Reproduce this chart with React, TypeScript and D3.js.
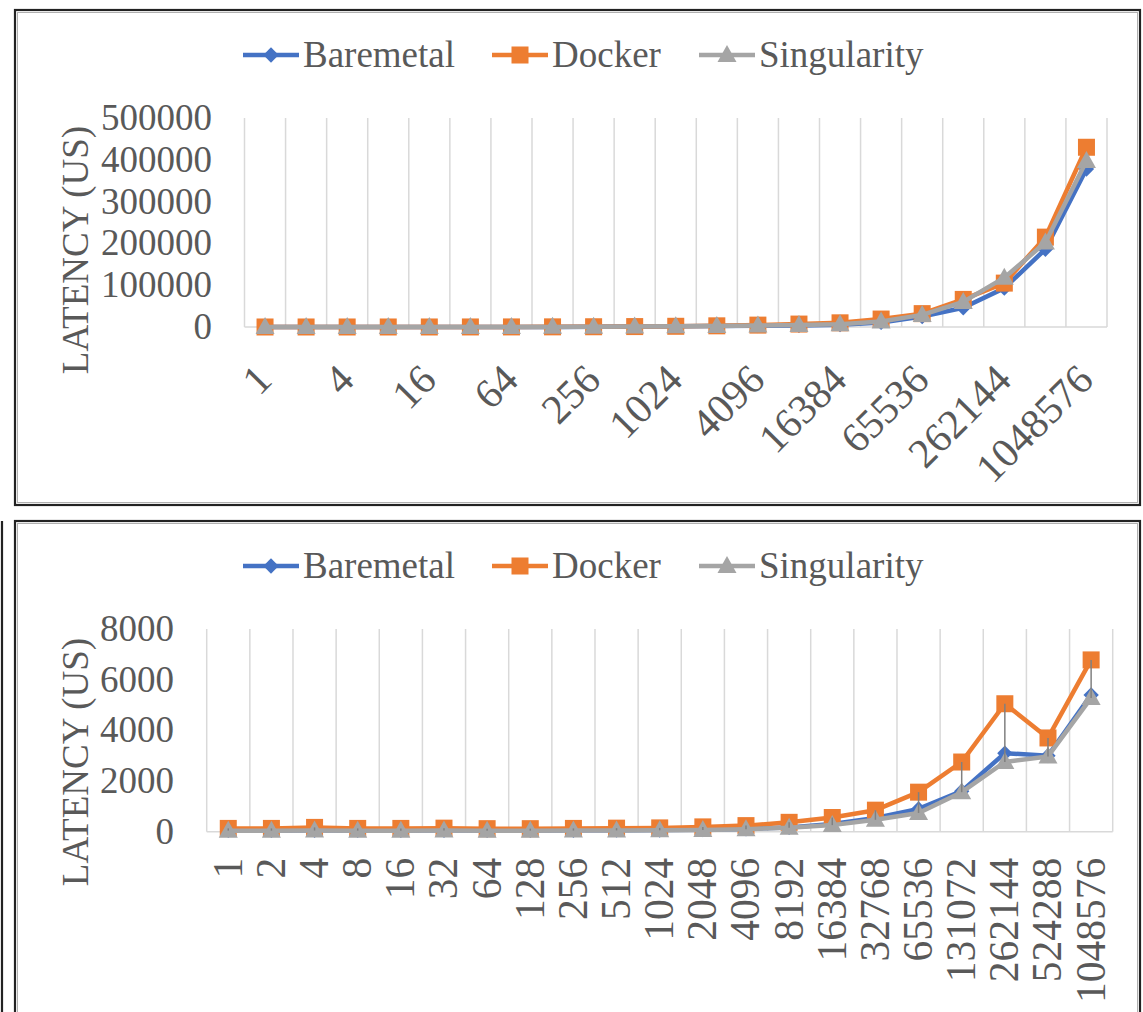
import React from "react";
import * as d3 from "d3";

const sizes = ["1","2","4","8","16","32","64","128","256","512","1024","2048","4096","8192","16384","32768","65536","131072","262144","524288","1048576"];

const topBaremetal = [20, 25, 30, 40, 60, 100, 180, 300, 550, 900, 1500, 2300, 3200, 3800, 5500, 11000, 25000, 46000, 93000, 186000, 378000];
const topDocker = [30, 35, 40, 50, 70, 120, 200, 350, 600, 1000, 1700, 2800, 4500, 7000, 10000, 19000, 32000, 66000, 105000, 215000, 430000];
const topSingularity = [20, 25, 30, 40, 60, 100, 180, 300, 550, 950, 1600, 2500, 3500, 4500, 6500, 13000, 29000, 60000, 118000, 202000, 397000];
const topTicks = [0, 100000, 200000, 300000, 400000, 500000];

const botBaremetal = [50, 50, 55, 50, 50, 55, 50, 50, 55, 60, 65, 80, 110, 170, 300, 540, 900, 1600, 3100, 3000, 5400];
const botDocker = [130, 130, 170, 130, 130, 140, 120, 120, 130, 140, 150, 190, 240, 370, 560, 850, 1560, 2750, 5050, 3700, 6780];
const botSingularity = [40, 40, 45, 40, 40, 45, 40, 40, 45, 50, 55, 70, 100, 160, 260, 470, 740, 1560, 2750, 2970, 5280];
const botTicks = [0, 2000, 4000, 6000, 8000];

const seriesNames = ["Baremetal", "Docker", "Singularity"];
const seriesColors = ["#4472C4", "#ED7D31", "#A5A5A5"];
const markerKinds = ["diamond", "square", "triangle"];

const FONT = "'Liberation Serif', 'Times New Roman', serif";
const TXT = "#595959";

function Marker({ kind, x, y, color }: { kind: string; x: number; y: number; color: string }) {
  if (kind === "diamond") {
    const p = d3.symbol().type(d3.symbolDiamond2).size(150)();
    return <path d={p || ""} transform={`translate(${x},${y})`} fill={color} />;
  }
  if (kind === "square") {
    return <rect x={x - 8.5} y={y - 8.5} width={17} height={17} fill={color} />;
  }
  return <path d={`M${x},${y - 10}L${x + 9.5},${y + 7}L${x - 9.5},${y + 7}Z`} fill={color} />;
}

function Legend({ y }: { y: number }) {
  const xs = [243, 492, 699];
  return (
    <g>
      {seriesNames.map((n, i) => (
        <g key={n}>
          <line x1={xs[i]} x2={xs[i] + 56} y1={y} y2={y} stroke={seriesColors[i]} strokeWidth={4.5} />
          <Marker kind={markerKinds[i]} x={xs[i] + 28} y={y} color={seriesColors[i]} />
          <text x={xs[i] + 60} y={y + 12} fontSize={37} fill={TXT} fontFamily={FONT}>{n}</text>
        </g>
      ))}
    </g>
  );
}

type ChartProps = {
  left: number; right: number; top: number; bottom: number;
  ticks: number[]; series: number[][];
  labelMode: "diag" | "vert";
  tickX: number; titleX: number; titleY: number; legendY: number;
  highLow: boolean;
};

function Chart(p: ChartProps) {
  const x = d3.scaleBand<string>().domain(sizes).range([p.left, p.right]).paddingInner(0).paddingOuter(0);
  const y = d3.scaleLinear().domain([0, p.ticks[p.ticks.length - 1]]).range([p.bottom, p.top]);
  const cx = (s: string) => (x(s) as number) + x.bandwidth() / 2;
  const line = d3.line<number>().x((_, i) => cx(sizes[i])).y((v) => y(v));
  const bounds = sizes.map((s) => x(s) as number).concat([p.right]);
  return (
    <g>
      <Legend y={p.legendY} />
      {bounds.map((b, i) => (
        <line key={"g" + i} x1={b} x2={b} y1={p.top} y2={p.bottom} stroke="#d9d9d9" strokeWidth={1.5} />
      ))}
      <line x1={p.left} x2={p.right} y1={p.bottom} y2={p.bottom} stroke="#d9d9d9" strokeWidth={1.5} />
      {p.ticks.map((t) => (
        <text key={"t" + t} x={p.tickX} y={y(t) + 12} textAnchor="end" fontSize={37} fill={TXT} fontFamily={FONT}>{t}</text>
      ))}
      <text transform={`translate(${p.titleX},${p.titleY}) rotate(-90)`} textAnchor="middle" fontSize={37} fill={TXT} fontFamily={FONT}>LATENCY (US)</text>
      {sizes.map((s, i) => {
        if (p.labelMode === "diag") {
          if (i % 2 !== 0) return null;
          return (
            <text key={"x" + s} transform={`translate(${cx(s) + 9},${p.bottom + 55}) rotate(-45)`} textAnchor="end" fontSize={41.5} fill={TXT} fontFamily={FONT}>{s}</text>
          );
        }
        return (
          <text key={"x" + s} transform={`translate(${cx(s) + 13.5},${p.bottom + 26}) rotate(-90)`} textAnchor="end" fontSize={41.5} fill={TXT} fontFamily={FONT}>{s}</text>
        );
      })}
      {p.series.map((vals, si) => (
        <g key={"s" + si}>
          <path d={line(vals) || ""} fill="none" stroke={seriesColors[si]} strokeWidth={4.5} strokeLinejoin="round" />
          {vals.map((v, i) => (
            <Marker key={i} kind={markerKinds[si]} x={cx(sizes[i])} y={y(v)} color={seriesColors[si]} />
          ))}
        </g>
      ))}
      {p.highLow && sizes.map((s, i) => {
        const vs = p.series.map((a) => a[i]);
        return <line key={"h" + s} x1={cx(s)} x2={cx(s)} y1={y(d3.max(vs) as number)} y2={y(d3.min(vs) as number)} stroke="#808080" strokeWidth={1.5} />;
      })}
    </g>
  );
}

export default function App() {
  return (
    <svg width={1143} height={1012} style={{ position: "absolute", left: 0, top: 0, background: "#fff" }}>
      <rect x={0} y={0} width={1143} height={1012} fill="#fff" />
      <rect x={15} y={10} width={1125} height={495} fill="none" stroke="#222" strokeWidth={2.2} />
      <rect x={17.5} y={12.5} width={1120} height={490} fill="none" stroke="#b0b0b0" strokeWidth={1} />
      <rect x={15} y={521} width={1125} height={520} fill="none" stroke="#222" strokeWidth={2.2} />
      <rect x={17.5} y={523.5} width={1120} height={520} fill="none" stroke="#b0b0b0" strokeWidth={1} />
      <line x1={2} x2={2} y1={521} y2={1012} stroke="#222" strokeWidth={2.2} />
      <Chart left={244.5} right={1107} top={118} bottom={327} ticks={topTicks}
        series={[topBaremetal, topDocker, topSingularity]} labelMode="diag"
        tickX={212} titleX={88} titleY={250} legendY={55} highLow={false} />
      <Chart left={206.7} right={1112.7} top={629} bottom={831.7} ticks={botTicks}
        series={[botBaremetal, botDocker, botSingularity]} labelMode="vert"
        tickX={174} titleX={88} titleY={762} legendY={566} highLow={true} />
    </svg>
  );
}
